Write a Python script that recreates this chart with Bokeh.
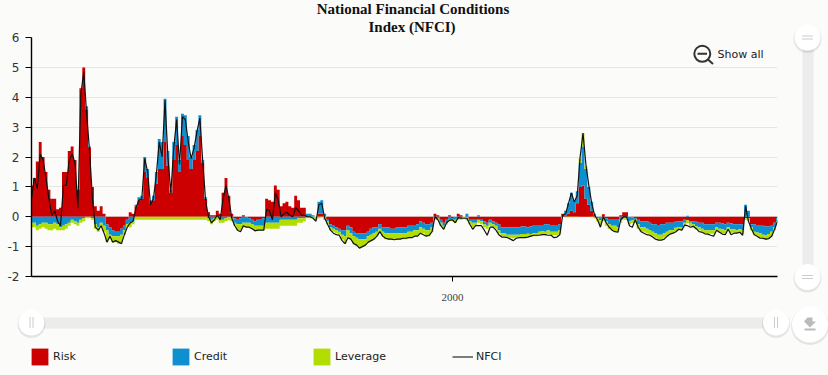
import numpy as np
from bokeh.plotting import figure
from bokeh.embed import file_html
from bokeh.resources import INLINE
from bokeh.core.properties import value
from bokeh.models import Legend, LegendItem, FixedTicker, Range1d

TITLE_LINES = ["National Financial Conditions", "Index (NFCI)"]
y_ticks = [-2, -1, 0, 1, 2, 3, 4, 5, 6]
x_ticks = [2000]
first_year = 1971.0
step_year = 0.2

risk = [
 1.05,1.3,1.85,2.5,2.0,1.5,.9,.6,.6,.25,
 .3,1.5,1.5,2.2,2.35,1.9,.9,4.3,5.0,3.6,
 2.3,1.0,.35,.2,.35,.1,-.25,-.35,-.45,-.5,
 -.5,-.4,-.3,-.1,.15,.1,.35,.55,.6,1.5,
 1.3,.45,.55,1.1,1.6,1.6,2.5,1.7,.8,1.9,
 2.4,1.5,2.7,2.4,1.9,1.6,1.9,2.2,2.7,1.8,
 .6,.15,.05,.05,.2,.1,.8,1.3,.7,.1,
 -.05,-.1,-.05,.05,0,-.05,-.1,-.15,-.1,-.1,
 -.05,.6,.55,.5,1.05,.9,
 .35,.45,.5,.35,.3,.7,.55,.3,.3,.05,
 0,0,0,.1,.1,0,-.1,-.25,-.3,-.35,
 -.4,-.45,-.45,-.3,-.35,-.5,-.55,-.55,-.55,-.55,
 -.5,-.4,-.35,-.35,-.25,-.35,-.35,-.35,-.4,-.4,
 -.35,-.35,-.35,-.35,-.3,-.3,-.3,-.25,-.15,-.2,
 -.25,-.25,-.2,.1,.05,-.1,-.2,-.1,.05,-.05,
 0,.1,.05,0,-.02,-.1,-.1,-.1,-.1,-.1,
 -.15,-.2,-.1,-.15,-.2,-.25,-.35,-.35,-.35,-.35,
 -.35,-.35,-.35,-.33,-.33,-.35,-.33,-.3,-.3,-.3,
 -.28,-.25,-.25,
 -.28,-.28,-.28,-.25,.1,.05,.1,.2,.15,.45,
 1.0,1.05,.6,.4,.2,.05,0,-.02,.08,-.05,
 -.1,-.1,-.1,-.1,.05,.15,.15,0,-.02,-.05,
 -.1,-.15,-.15,-.15,-.2,-.25,-.25,-.3,-.25,-.25,
 -.2,-.2,-.2,-.17,-.15,-.15,-.1,-.12,-.15,-.15,
 -.17,-.2,-.2,-.25,-.25,-.25,-.25,-.2,-.2,-.22,
 -.25,-.2,-.22,-.25,-.25,-.25,-.25,-.05,-.05,-.25,
 -.25,-.28,-.3,-.3,-.33,-.33,-.3,-.2,-.05,
]
credit = [
 -.2,-.2,-.3,-.25,-.2,-.2,-.25,-.25,-.2,-.25,
 -.35,-.3,-.25,-.2,-.1,-.15,-.2,-.1,-.05,.1,
 .05,-.05,-.25,-.35,-.2,-.3,-.2,-.25,-.2,-.15,
 -.15,-.2,-.15,-.15,-.2,-.15,.05,.1,.1,.5,
 .3,.1,.15,.4,1.0,.9,1.45,.5,.1,.6,
 .95,.4,.75,1.0,.8,.4,.5,.7,.7,.1,
 .05,-.05,-.1,-.05,0,-.1,-.1,-.05,-.02,-.05,
 -.15,-.15,-.2,-.2,-.2,-.15,-.15,-.15,-.2,-.2,
 -.25,-.2,-.2,-.2,-.2,-.2,
 -.1,-.1,-.1,-.1,-.1,-.1,-.05,-.05,-.05,.05,
 .1,.05,0,.4,.45,.1,-.05,-.1,-.1,-.1,
 -.1,-.15,-.2,-.15,-.2,-.15,-.15,-.2,-.2,-.2,
 -.15,-.2,-.2,-.15,-.15,-.15,-.2,-.2,-.15,-.15,
 -.2,-.2,-.2,-.2,-.2,-.2,-.15,-.2,-.2,-.2,
 -.2,-.2,-.15,-.05,-.05,-.1,-.1,-.1,-.1,-.05,
 -.1,-.05,-.05,0,.1,-.05,-.1,-.1,.05,-.05,
 -.1,-.1,-.1,-.1,-.1,-.2,-.2,-.2,-.25,-.25,
 -.25,-.25,-.25,-.25,-.25,-.22,-.25,-.25,-.25,-.2,
 -.2,-.25,-.2,
 -.22,-.22,-.22,-.2,0,.15,.35,.6,.4,.4,
 .8,1.3,1.0,.6,.3,.05,-.05,-.1,-.05,-.1,
 -.15,-.2,-.2,-.25,-.1,-.05,-.05,-.15,-.1,-.05,
 -.15,-.2,-.2,-.25,-.25,-.25,-.3,-.3,-.35,-.3,
 -.3,-.25,-.25,-.2,-.2,-.2,-.1,.03,-.05,-.1,
 -.15,-.15,-.2,-.2,-.2,-.2,-.2,-.15,-.2,-.2,
 -.2,-.15,-.2,-.17,-.2,-.17,-.2,.4,.2,-.1,
 -.25,-.25,-.25,-.3,-.3,-.25,-.2,-.15,-.1,
]
leverage = [
 -.15,-.15,-.15,-.15,-.15,-.2,-.2,-.2,-.2,-.2,
 -.1,-.15,-.15,-.1,-.1,-.1,-.1,-.1,-.1,-.05,
 -.05,-.05,-.15,-.15,-.15,-.2,-.4,-.15,-.2,-.2,
 -.25,-.25,-.15,-.1,-.15,-.1,-.1,-.1,-.1,-.1,
 -.1,-.1,-.1,-.1,-.1,-.1,-.1,-.1,-.1,-.1,
 -.1,-.1,-.1,-.1,-.1,-.1,-.1,-.1,-.1,-.1,
 -.1,-.1,-.15,-.1,-.1,-.1,-.1,-.1,-.1,-.1,
 -.1,-.2,-.2,-.15,-.15,-.15,-.15,-.15,-.15,-.15,
 -.15,-.2,-.2,-.2,-.2,-.2,
 -.2,-.2,-.2,-.2,-.2,-.2,-.15,-.15,-.1,-.05,
 -.05,-.05,-.1,-.05,-.02,-.1,-.1,-.1,-.1,-.1,
 -.1,-.15,-.25,-.25,-.2,-.25,-.25,-.3,-.25,-.2,
 -.2,-.2,-.2,-.15,-.15,-.15,-.2,-.2,-.2,-.2,
 -.2,-.2,-.2,-.2,-.2,-.2,-.2,-.2,-.2,-.15,
 -.2,-.2,-.15,-.05,-.05,-.1,-.1,-.05,-.05,-.05,
 -.1,-.05,-.05,-.05,-.1,-.1,-.15,-.1,-.1,-.1,
 -.1,-.1,-.1,-.1,-.1,-.1,-.1,-.1,-.1,-.1,
 -.12,-.1,-.1,-.1,-.1,-.1,-.1,-.1,-.1,-.1,
 -.12,-.12,-.12,
 -.12,-.12,-.12,-.12,0,-.02,-.02,-.02,-.02,-.02,
 .15,.45,.1,0,-.02,-.05,-.1,-.15,-.1,-.15,
 -.15,-.15,-.2,-.15,-.1,-.05,-.05,-.1,-.1,-.1,
 -.15,-.15,-.15,-.15,-.15,-.15,-.15,-.15,-.15,-.15,
 -.15,-.12,-.1,-.12,-.1,-.1,-.1,-.1,-.12,-.1,
 -.1,-.1,-.1,-.1,-.12,-.12,-.12,-.1,-.12,-.12,
 -.1,-.1,-.12,-.1,-.1,-.1,-.12,-.05,-.1,-.1,
 -.1,-.1,-.15,-.15,-.15,-.15,-.15,-.1,-.05,
]
nfci = [
 .6,1.3,.95,2.1,1.9,1.3,.6,.05,.2,-.15,
 -.3,1.05,1.05,1.9,2.1,1.8,.3,4.1,4.85,3.45,
 2.2,.6,-.35,-.45,-.3,-.55,-.85,-.65,-.85,-.8,
 -.85,-.9,-.6,-.35,-.2,-.15,.3,.55,.6,1.95,
 1.5,.4,.6,1.4,2.5,2.0,3.9,2.0,.8,2.3,
 3.25,1.75,3.35,3.25,2.5,1.95,2.3,2.85,3.3,1.85,
 .5,0,-.2,-.1,.05,-.1,.6,1.05,.6,-.05,
 -.3,-.45,-.5,-.3,-.35,-.35,-.4,-.47,-.45,-.45,
 -.45,.25,.2,-.1,.8,.55,
 0,.1,.15,.05,0,.3,.2,.05,.05,0,
 0,-.05,-.15,.4,.45,-.05,-.25,-.45,-.55,-.6,
 -.62,-.8,-.9,-.7,-.75,-.9,-.95,-1.05,-1.0,-.95,
 -.85,-.8,-.75,-.65,-.5,-.65,-.72,-.75,-.75,-.77,
 -.75,-.75,-.72,-.72,-.7,-.7,-.65,-.65,-.55,-.6,
 -.65,-.62,-.5,0,-.1,-.3,-.42,-.2,-.12,-.1,
 -.2,-.03,-.05,-.05,-.05,-.25,-.42,-.3,-.3,-.3,
 -.45,-.62,-.35,-.35,-.45,-.6,-.68,-.68,-.7,-.75,
 -.8,-.72,-.7,-.7,-.7,-.68,-.65,-.62,-.62,-.62,
 -.6,-.6,-.62,
 -.62,-.7,-.68,-.6,.05,.1,.45,.8,.5,.7,
 2.0,2.8,1.75,1.05,.45,.05,-.1,-.35,0,-.2,
 -.35,-.45,-.5,-.52,-.1,0,0,-.3,-.35,-.1,
 -.35,-.5,-.55,-.6,-.62,-.68,-.75,-.78,-.78,-.75,
 -.65,-.58,-.55,-.5,-.42,-.45,-.28,-.3,-.35,-.32,
 -.4,-.5,-.52,-.57,-.58,-.62,-.65,-.45,-.52,-.58,
 -.6,-.42,-.6,-.55,-.55,-.52,-.62,.35,-.15,-.4,
 -.6,-.65,-.72,-.72,-.75,-.73,-.65,-.42,-.15,
]

BG = "#fbfbf9"
RED, BLUE, GREEN = "#cc0000", "#0e8fd0", "#b2dd00"
POS = {"position": "absolute", "left": "0px", "top": "0px"}
years = first_year + step_year * np.arange(len(nfci))

p = figure(width=828, height=375, output_backend="svg", toolbar_location=None,
           x_range=Range1d(1971.0, 2022.4), y_range=Range1d(-2, 6),
           min_border_left=31, min_border_right=51, min_border_top=37, min_border_bottom=99,
           background_fill_color=BG, border_fill_color=BG, outline_line_color=None,
           styles=POS)

# stacks: positive parts pile up from zero, negative parts pile down
pos, neg = np.zeros(len(nfci)), np.zeros(len(nfci))
series = (("Risk", risk, RED), ("Credit", credit, BLUE), ("Leverage", leverage, GREEN))
for name, vals, col in series:
    v = np.array(vals, dtype=float)
    up = pos + np.clip(v, 0, None)
    dn = neg + np.clip(v, None, 0)
    p.varea_step(years, pos, up, fill_color=col, step_mode="center")
    p.varea_step(years, neg, dn, fill_color=col, step_mode="center")
    pos, neg = up, dn
p.line(years, nfci, line_color="#111111", line_width=1.2)

# axes
p.yaxis.ticker = FixedTicker(ticks=y_ticks)
p.xaxis.ticker = FixedTicker(ticks=x_ticks)
p.xaxis.formatter.use_scientific = False
p.yaxis.major_label_overrides = {t: str(t) for t in y_ticks}
for ax in (p.xaxis[0], p.yaxis[0]):
    ax.axis_line_color = "#000000"
    ax.axis_line_width = 1.4
    ax.major_tick_line_color = "#000000"
    ax.major_tick_in = 0
    ax.minor_tick_line_color = None
p.yaxis.major_tick_out = 6
p.yaxis.major_tick_line_width = 1
p.yaxis.major_label_standoff = 6
p.yaxis.major_label_text_font = "DejaVu Sans"
p.yaxis.major_label_text_font_size = "12px"
p.yaxis.major_label_text_color = "#333333"
p.xaxis.major_tick_out = 5
p.xaxis.major_label_standoff = 12
p.xaxis.major_label_text_font = "Liberation Serif"
p.xaxis.major_label_text_font_size = "11px"
p.xaxis.major_label_text_color = "#444444"
p.xgrid.grid_line_color = None
p.ygrid.grid_line_color = "#e6e6e6"
p.ygrid.ticker = FixedTicker(ticks=y_ticks)

# transparent page-sized layer: 1 data unit = 1 pixel, y growing downward
o = figure(width=828, height=375, output_backend="svg", toolbar_location=None,
           x_range=Range1d(0, 828), y_range=Range1d(375, 0),
           x_axis_type=None, y_axis_type=None,
           min_border_left=0, min_border_right=0, min_border_top=0, min_border_bottom=0,
           background_fill_alpha=0, border_fill_alpha=0, outline_line_color=None,
           styles=POS)
o.grid.visible = False

# title
o.text([412.5, 411.5], [8.5, 26.5], text=TITLE_LINES, text_font=value("Liberation Serif"),
       text_font_size="15px", text_font_style="bold", text_color="#111111",
       text_align="center", text_baseline="middle")

# legend: the keys need a renderer holding some data, which lies off the page here
items = []
for name, vals, col in series:
    r = o.varea(x=[-20, -10], y1=[-20, -20], y2=[-10, -10], fill_color=col)
    items.append(LegendItem(label=name, renderers=[r]))
r = o.line(x=[-20, -10], y=[-20, -20], line_color="#000000", line_width=1)
items.append(LegendItem(label="NFCI", renderers=[r]))
leg = Legend(items=items, orientation="horizontal", location=(29, 8),
             glyph_width=21, glyph_height=21, label_width=117, label_standoff=3,
             spacing=0, padding=0, margin=0, border_line_color=None,
             background_fill_alpha=0, label_text_font="DejaVu Sans",
             label_text_font_size="11px", label_text_color="#222222",
             label_height=21)
o.add_layout(leg, "center")


def box(l, r, t, b, fill):
    o.quad(left=[l], right=[r], top=[t], bottom=[b], fill_color=fill, line_color=None)


def knob(cx, cy, r=13):
    o.circle([cx], [cy + 1.5], radius=r + 1, fill_color="#000000", fill_alpha=0.09, line_color=None)
    o.circle([cx], [cy], radius=r, fill_color="#ffffff", line_color=None)


# vertical zoom slider
box(802, 813, 37, 276, "#ececec")
for cy in (37, 276.5):
    knob(807, cy)
    box(801.5, 812.5, cy - 2, cy - 1, "#cccccc")
    box(801.5, 812.5, cy + 1, cy + 2, "#cccccc")
# horizontal range slider
box(31, 776, 317, 328, "#ececec")
for cx in (31, 775.5):
    knob(cx, 322)
    box(cx - 2, cx - 1, 316.5, 327.5, "#cccccc")
    box(cx + 1, cx + 2, 316.5, 327.5, "#cccccc")
# download button
knob(809.5, 324, 18)
box(804, 815, 328, 330, "#bbbbbb")
o.patch([807, 812, 812, 815.5, 809.5, 803.5], [317, 317, 321, 321, 327, 321],
        fill_color="#bbbbbb", line_color=None)

# show-all control
o.circle([701.8], [53.3], radius=8, fill_alpha=0, line_color="#333333", line_width=2)
box(697, 706.5, 52.3, 54.3, "#333333")
o.line([707.5, 712.5], [59, 63.5], line_color="#333333", line_width=2)
o.text([717], [54], text=["Show all"], text_font=value("DejaVu Sans"), text_font_size="11px",
       text_color="#222222", text_baseline="middle")

html = file_html([p, o], INLINE)
html = html.replace("</head>", f"<style>html,body{{margin:0;padding:0;background:{BG};overflow:hidden}}</style></head>")
open("out.html", "w").write(html)
